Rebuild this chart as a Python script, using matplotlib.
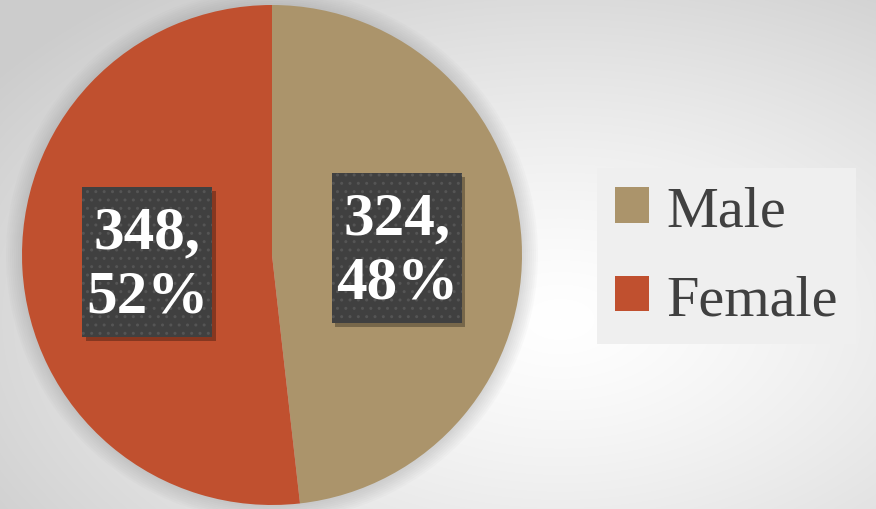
import numpy as np
import matplotlib
matplotlib.use("Agg")
import matplotlib.pyplot as plt
from matplotlib.patches import Rectangle, Circle

categories = ["Male", "Female"]
counts = [324, 348]
percents = [48, 52]
colors = ["#AB946B", "#C0502F"]

W, H = 876, 510
fig = plt.figure(figsize=(W / 100, H / 100), dpi=100)

# soft radial backdrop
bg = fig.add_axes([0, 0, 1, 1], zorder=0)
yy, xx = np.mgrid[0:H, 0:W]
r = np.sqrt(((xx - 560) / 700.0) ** 2 + ((yy - 320) / 420.0) ** 2)
val = 1.0 - 0.2 * np.clip(r, 0, 1) ** 1.3
bg.imshow(np.dstack([val, val, val]), extent=[0, W, H, 0], aspect="auto")
bg.set_axis_off()

# pie axes: centre (272, 256) px, radius 250 px
cx, cy, rad = 272, 256, 250
ax = fig.add_axes([(cx - rad) / W, (H - cy - rad) / H, 2 * rad / W, 2 * rad / H], zorder=1)
ax.patch.set_visible(False)

# faint halo around the pie
for k in range(8):
    ax.add_patch(Circle((0, 0), 1.0 + 0.008 * (k + 1), facecolor="#808080",
                        alpha=0.035, linewidth=0, zorder=0, clip_on=False))

wedges, _ = ax.pie(counts, colors=colors, startangle=90, counterclock=False,
                   radius=1.0, wedgeprops=dict(linewidth=0, zorder=1))
ax.set_xlim(-1, 1)
ax.set_ylim(-1, 1)

# data labels in dark boxes at half radius
total = sum(counts)
start = 90.0
bw, bh = 130 / rad, 150 / rad
for w, c, p in zip(wedges, counts, percents):
    span = 360.0 * c / total
    mid = np.deg2rad(start - span / 2)
    start -= span
    lx, ly = 0.5 * np.cos(mid), 0.5 * np.sin(mid)
    ax.add_patch(Rectangle((lx - bw / 2 + 0.014, ly - bh / 2 - 0.016), bw, bh,
                           facecolor="black", alpha=0.3, linewidth=0, zorder=3))
    ax.add_patch(Rectangle((lx - bw / 2, ly - bh / 2), bw, bh, facecolor="#404040",
                           edgecolor="#555555", hatch="..", linewidth=0, zorder=4))
    ax.text(lx, ly - 0.01, f"{c},\n{p}%", ha="center", va="center", color="white",
            fontsize=44, fontweight="bold", family="Liberation Serif",
            linespacing=1.2, zorder=5)

leg = fig.legend(wedges, categories, loc="center",
                 bbox_to_anchor=(726.5 / W, 1 - 257 / H),
                 prop=dict(family="Liberation Serif", size=42),
                 frameon=True, fancybox=False, facecolor="#efefef",
                 edgecolor="none", framealpha=1.0,
                 handlelength=0.57, handleheight=0.57, handletextpad=0.3,
                 labelspacing=0.62, borderpad=0.31, borderaxespad=0)
for t in leg.get_texts():
    t.set_color("#404040")

fig.savefig("out.png", dpi=100)
